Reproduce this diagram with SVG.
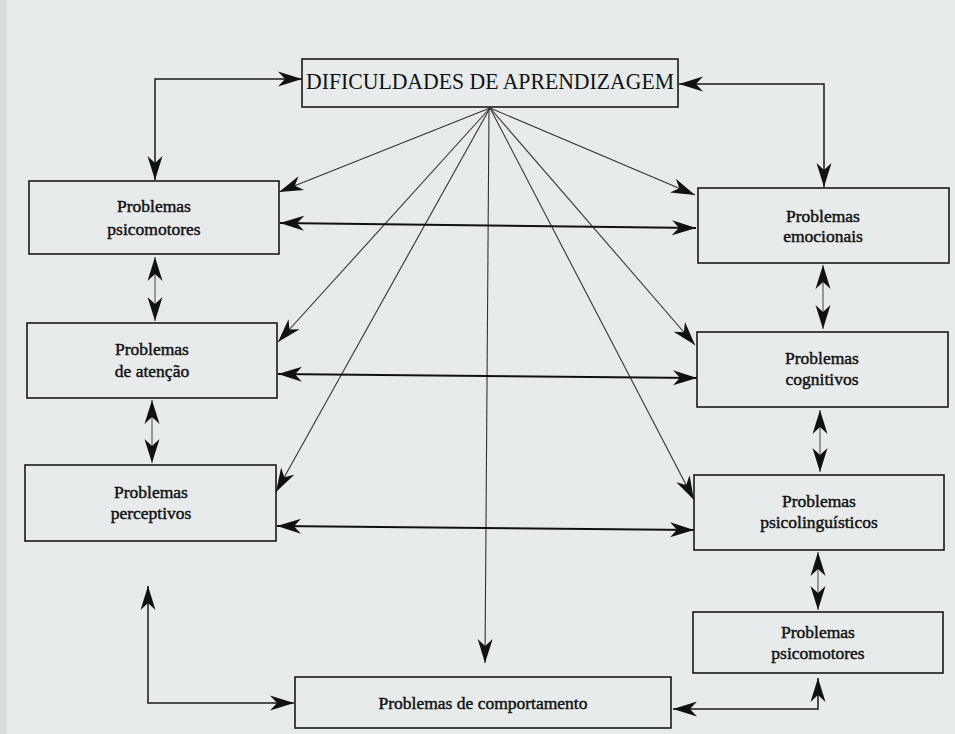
<svg xmlns="http://www.w3.org/2000/svg" width="955" height="734" viewBox="0 0 955 734">
<defs>
<style>
.box{fill:none;stroke:#1a1a1a;stroke-width:1.6}
.lbl{font-family:'Liberation Serif','Times New Roman',serif;font-size:17.5px;fill:#111;stroke:#111;stroke-width:0.45;text-anchor:middle}
.title{font-family:'Liberation Serif','Times New Roman',serif;font-size:23px;fill:#111}
.c{fill:none;stroke:#1a1a1a;stroke-width:1.5}
.d{fill:none;stroke:#333;stroke-width:1.1}
.h{fill:none;stroke:#111;stroke-width:2}
.s{fill:none;stroke:#444;stroke-width:1}
</style>
<marker id="ah" markerUnits="userSpaceOnUse" markerWidth="24" markerHeight="16" refX="24" refY="8" orient="auto-start-reverse" viewBox="0 0 24 16">
<path d="M24,8 L0,0.5 L7,8 L0,15.5 Z" fill="#111"/>
</marker>
</defs>
<rect x="0" y="0" width="955" height="734" fill="#e8ebeb"/>
<rect x="0" y="0" width="7" height="734" fill="#dadddd"/>

<g id="connectors">
<polyline class="c" points="155,180 155,79 302,79" marker-start="url(#ah)" marker-end="url(#ah)"/>
<polyline class="c" points="679,84 824,84 824,187" marker-start="url(#ah)" marker-end="url(#ah)"/>
<line class="d" x1="490" y1="108" x2="279" y2="192" marker-end="url(#ah)"/>
<line class="d" x1="490" y1="108" x2="278" y2="342" marker-end="url(#ah)"/>
<line class="d" x1="490" y1="108" x2="276" y2="492" marker-end="url(#ah)"/>
<line class="d" x1="490" y1="108" x2="695" y2="195" marker-end="url(#ah)"/>
<line class="d" x1="490" y1="108" x2="695" y2="345" marker-end="url(#ah)"/>
<line class="d" x1="490" y1="108" x2="694" y2="500" marker-end="url(#ah)"/>
<line class="d" x1="489" y1="108" x2="485" y2="663" marker-end="url(#ah)"/>
<line class="h" x1="280" y1="223" x2="696" y2="228" marker-start="url(#ah)" marker-end="url(#ah)"/>
<line class="h" x1="278" y1="374" x2="697" y2="378" marker-start="url(#ah)" marker-end="url(#ah)"/>
<line class="h" x1="277" y1="526" x2="694" y2="530" marker-start="url(#ah)" marker-end="url(#ah)"/>
<line class="s" x1="155" y1="257" x2="155" y2="321" marker-start="url(#ah)" marker-end="url(#ah)"/>
<line class="s" x1="152" y1="400" x2="152" y2="463" marker-start="url(#ah)" marker-end="url(#ah)"/>
<line class="s" x1="823" y1="265" x2="823" y2="329" marker-start="url(#ah)" marker-end="url(#ah)"/>
<line class="s" x1="820" y1="410" x2="820" y2="472" marker-start="url(#ah)" marker-end="url(#ah)"/>
<line class="s" x1="818" y1="552" x2="818" y2="610" marker-start="url(#ah)" marker-end="url(#ah)"/>
<polyline class="c" points="148,586 148,703 294,703" marker-start="url(#ah)" marker-end="url(#ah)"/>
<polyline class="c" points="818,678 818,709 673,709" marker-start="url(#ah)" marker-end="url(#ah)"/>
</g>

<g id="n-dificuldades">
<rect class="box" x="302" y="59" width="376" height="48" fill="#e8ebeb"/>
<text class="title" x="306" y="89" textLength="368" lengthAdjust="spacingAndGlyphs">DIFICULDADES DE APRENDIZAGEM</text>
</g>
<g id="n-psicomotores-l">
<rect class="box" x="29" y="181" width="250" height="73"/>
<text class="lbl" x="154" y="212">Problemas</text>
<text class="lbl" x="154" y="235">psicomotores</text>
</g>
<g id="n-atencao">
<rect class="box" x="27" y="323" width="250" height="75"/>
<text class="lbl" x="152" y="355">Problemas</text>
<text class="lbl" x="152" y="377">de atenção</text>
</g>
<g id="n-perceptivos">
<rect class="box" x="25" y="465" width="251" height="76"/>
<text class="lbl" x="151" y="498">Problemas</text>
<text class="lbl" x="151" y="519">perceptivos</text>
</g>
<g id="n-comportamento">
<rect class="box" x="295" y="677" width="376" height="51"/>
<text class="lbl" x="483" y="709">Problemas de comportamento</text>
</g>
<g id="n-emocionais">
<rect class="box" x="698" y="188" width="251" height="75"/>
<text class="lbl" x="823" y="222">Problemas</text>
<text class="lbl" x="823" y="242">emocionais</text>
</g>
<g id="n-cognitivos">
<rect class="box" x="697" y="332" width="251" height="75"/>
<text class="lbl" x="822" y="364">Problemas</text>
<text class="lbl" x="822" y="385">cognitivos</text>
</g>
<g id="n-psicolinguisticos">
<rect class="box" x="694" y="475" width="250" height="75"/>
<text class="lbl" x="819" y="507">Problemas</text>
<text class="lbl" x="819" y="528">psicolinguísticos</text>
</g>
<g id="n-psicomotores-r">
<rect class="box" x="693" y="612" width="250" height="61"/>
<text class="lbl" x="818" y="638">Problemas</text>
<text class="lbl" x="818" y="659">psicomotores</text>
</g>
</svg>
